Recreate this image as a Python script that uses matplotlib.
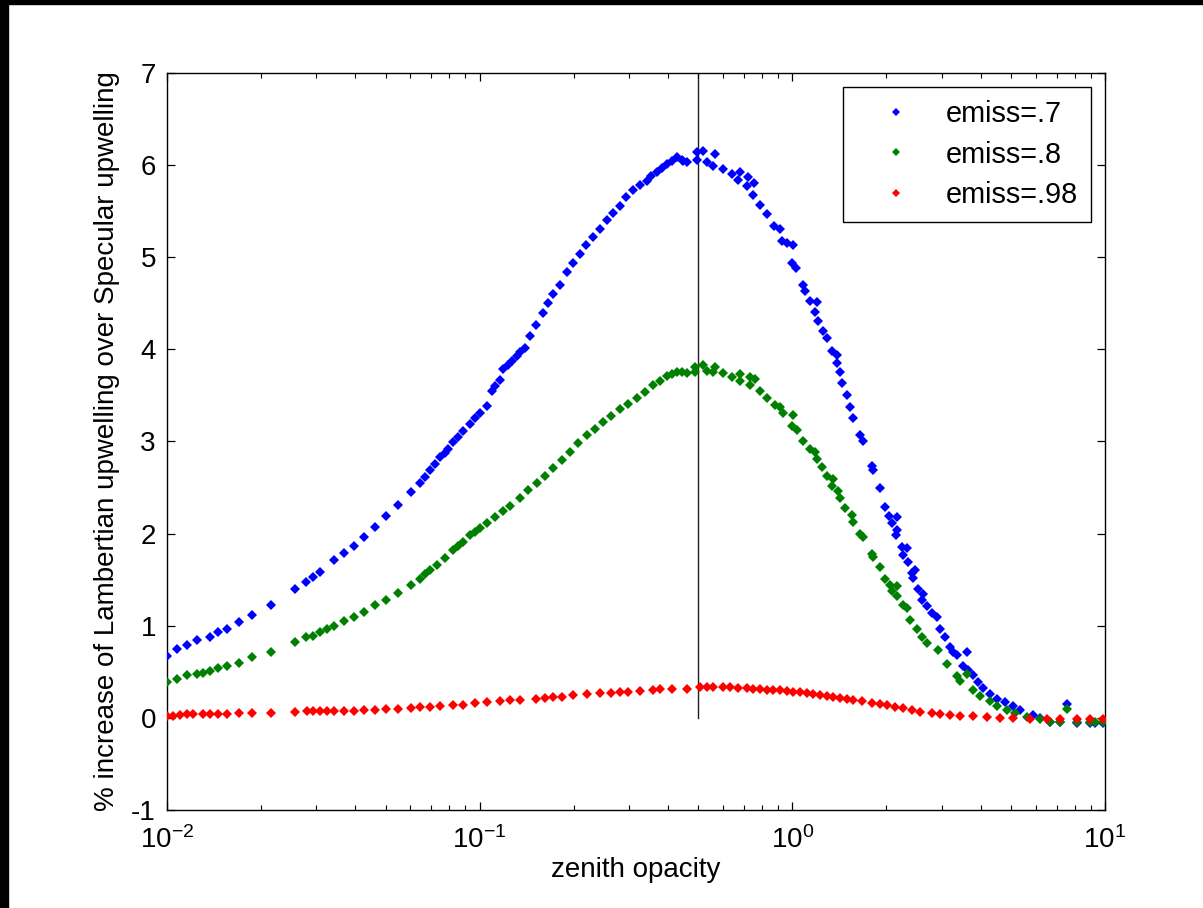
import matplotlib
matplotlib.use("Agg")
import matplotlib.pyplot as plt
from matplotlib.patches import Rectangle

# ---------------------------------------------------------------------
# MATLAB-ish look
# ---------------------------------------------------------------------
plt.rcParams.update({
    "font.family": "Liberation Sans",
    "font.size": 20,
    "mathtext.fontset": "custom",
    "mathtext.rm": "Liberation Sans",
    "mathtext.it": "Liberation Sans:italic",
    "mathtext.bf": "Liberation Sans:bold",
    "axes.unicode_minus": False,
    "axes.linewidth": 1.0,
    "xtick.direction": "in",
    "ytick.direction": "in",
    "xtick.top": True,
    "ytick.right": True,
    "xtick.major.size": 6,
    "ytick.major.size": 6,
    "xtick.minor.size": 3.5,
    "xtick.major.width": 0.9,
    "ytick.major.width": 0.9,
    "xtick.minor.width": 0.8,
})

# ---------------------------------------------------------------------
# Data (zenith opacity, % increase)
# ---------------------------------------------------------------------
tau_07 = [0.0100, 0.01074, 0.01156, 0.01245, 0.01372, 0.01459, 0.01552, 0.01699,
          0.01874, 0.02151, 0.02566, 0.02777, 0.02937, 0.03085, 0.03420, 0.03681,
          0.03963, 0.04266, 0.04627, 0.05017, 0.05467, 0.06031, 0.06443, 0.07464,
          0.08234, 0.09311, 0.1053, 0.1093, 0.1161, 0.1190, 0.1266, 0.1313,
          0.1396, 0.1449, 0.1597, 0.1719, 0.1897, 0.2093, 0.2309, 0.2547,
          0.2810, 0.3099, 0.3420, 0.3681, 0.3963, 0.4266, 0.4426, 0.4478,
          0.4592, 0.4943, 0.4943, 0.5189, 0.5320, 0.5655, 0.5585, 0.6012,
          0.6396, 0.6798, 0.6714, 0.7228, 0.7142, 0.7537, 0.7499, 0.7876,
          0.8276, 0.8733, 0.9128, 0.9243, 0.9590, 1.0023, 0.9949, 1.0268,
          1.0787, 1.0973, 1.1385, 1.1960, 1.1812, 1.2101, 1.2555, 1.2874,
          1.3356, 1.3860, 1.3860, 1.4200, 1.4380, 1.4917, 1.5285, 1.5662,
          1.6452, 1.6853, 1.7932, 1.8065, 1.9060, 1.9777, 2.0416, 2.0873,
          2.1652, 2.1652, 2.1448, 2.2363, 2.3201, 2.2627, 2.3475, 2.4071,
          2.4666, 2.4356, 2.5270, 2.6220, 2.5913, 2.6887, 2.7900, 2.8946,
          2.9648, 3.0761, 3.1915, 3.3530, 3.6089, 3.5196, 3.7887, 4.0785,
          4.5008, 5.0860, 5.8950, 6.6666, 7.5423, 8.1123, 8.9452, 9.8469,
          0.06685, 0.06936, 0.07196, 0.07745, 0.07918, 0.08524, 0.08844, 0.09661,
          0.1002, 0.1119, 0.1232, 0.1346, 0.1514, 0.1653, 0.1806, 0.1988,
          0.2188, 0.2424, 0.2669, 0.2937, 0.3256, 0.3530, 0.3828, 0.4121,
          3.2628, 3.6440, 3.9228, 4.2845, 4.7853, 5.3434, 6.1914, 7.1746,
          9.2832]
inc_07 = [0.67, 0.75, 0.79, 0.84, 0.88, 0.93, 0.96, 1.04,
          1.12, 1.23, 1.40, 1.48, 1.53, 1.58, 1.71, 1.79,
          1.87, 1.96, 2.07, 2.19, 2.31, 2.45, 2.55, 2.83,
          2.99, 3.19, 3.39, 3.55, 3.67, 3.79, 3.87, 3.93,
          4.02, 4.14, 4.40, 4.60, 4.84, 5.04, 5.22, 5.40,
          5.56, 5.73, 5.83, 5.93, 6.01, 6.09, 6.06, 6.05,
          6.03, 6.14, 6.06, 6.15, 6.03, 6.12, 5.99, 5.96,
          5.90, 5.93, 5.84, 5.87, 5.77, 5.81, 5.68, 5.57,
          5.47, 5.34, 5.31, 5.18, 5.16, 5.13, 4.94, 4.88,
          4.70, 4.63, 4.53, 4.51, 4.41, 4.31, 4.20, 4.12,
          3.98, 3.94, 3.85, 3.75, 3.64, 3.50, 3.37, 3.26,
          3.07, 3.01, 2.73, 2.69, 2.50, 2.29, 2.19, 2.12,
          2.18, 2.04, 1.99, 1.86, 1.84, 1.77, 1.69, 1.57,
          1.61, 1.52, 1.40, 1.35, 1.28, 1.21, 1.14, 1.10,
          0.96, 0.88, 0.77, 0.68, 0.71, 0.56, 0.46, 0.32,
          0.21, 0.13, 0.03, -0.04, 0.15, -0.06, -0.06, -0.06,
          2.62, 2.69, 2.76, 2.88, 2.92, 3.05, 3.11, 3.25,
          3.31, 3.60, 3.83, 3.97, 4.27, 4.50, 4.70, 4.94,
          5.13, 5.31, 5.48, 5.65, 5.78, 5.88, 5.97, 6.05,
          0.72, 0.52, 0.39, 0.26, 0.17, 0.09, 0.00, -0.05,
          -0.06]

tau_08 = [0.0100, 0.01074, 0.01156, 0.01245, 0.01306, 0.01372, 0.01459, 0.01552,
          0.01699, 0.01874, 0.02151, 0.02566, 0.02777, 0.02937, 0.03085, 0.03241,
          0.03420, 0.03681, 0.03963, 0.04266, 0.04627, 0.05017, 0.05467, 0.06031,
          0.06443, 0.07286, 0.08234, 0.09311, 0.1053, 0.1190, 0.1346, 0.1522,
          0.1719, 0.1944, 0.2199, 0.2485, 0.2810, 0.3178, 0.3590, 0.3963,
          0.4266, 0.4426, 0.4592, 0.4881, 0.4881, 0.5189, 0.5320, 0.5655,
          0.5585, 0.6012, 0.6396, 0.6798, 0.6798, 0.7318, 0.7318, 0.7593,
          0.7876, 0.8276, 0.8799, 0.9128, 0.9352, 1.0067, 0.9949, 1.0321,
          1.0837, 1.1385, 1.1812, 1.1960, 1.2408, 1.2874, 1.3513, 1.3356,
          1.4024, 1.4200, 1.4733, 1.5476, 1.5662, 1.6452, 1.6853, 1.7932,
          1.8065, 1.9060, 1.9777, 2.0520, 2.0873, 2.1652, 2.1557, 2.2528,
          2.3201, 2.3774, 2.4975, 2.5913, 2.6887, 2.9288, 3.1146, 3.3530,
          3.6089, 3.7887, 4.2845, 4.8450, 5.6154, 6.6666, 7.5423, 8.1123,
          8.9452, 9.8469,
          0.06685, 0.06936, 0.07745, 0.08524, 0.08844, 0.09661, 0.1002, 0.1119,
          0.1250, 0.1427, 0.1617, 0.1833, 0.2062, 0.2337, 0.2630, 0.2981,
          0.3378, 0.3772, 0.4121, 3.4356, 3.9811, 4.5112, 5.1508, 6.1914,
          7.1746, 9.2832]
inc_08 = [0.39, 0.42, 0.46, 0.48, 0.49, 0.51, 0.54, 0.56,
          0.60, 0.66, 0.72, 0.82, 0.88, 0.89, 0.93, 0.96,
          1.00, 1.05, 1.10, 1.15, 1.22, 1.28, 1.36, 1.44,
          1.51, 1.66, 1.82, 1.98, 2.11, 2.25, 2.39, 2.55,
          2.71, 2.89, 3.07, 3.21, 3.35, 3.47, 3.61, 3.71,
          3.75, 3.75, 3.74, 3.81, 3.75, 3.83, 3.77, 3.81,
          3.75, 3.74, 3.70, 3.73, 3.66, 3.70, 3.61, 3.68,
          3.55, 3.47, 3.40, 3.37, 3.31, 3.29, 3.17, 3.13,
          3.00, 2.92, 2.89, 2.81, 2.72, 2.63, 2.59, 2.52,
          2.46, 2.39, 2.28, 2.20, 2.13, 2.00, 1.96, 1.78,
          1.75, 1.64, 1.51, 1.44, 1.38, 1.43, 1.32, 1.23,
          1.19, 1.06, 0.96, 0.88, 0.81, 0.74, 0.59, 0.45,
          0.48, 0.30, 0.18, 0.087, 0.014, -0.04, 0.094, -0.04,
          -0.05, -0.05,
          1.56, 1.61, 1.74, 1.87, 1.91, 2.02, 2.06, 2.18,
          2.30, 2.47, 2.63, 2.80, 2.98, 3.14, 3.28, 3.41,
          3.54, 3.66, 3.73, 0.40, 0.24, 0.13, 0.05, -0.01,
          -0.04, -0.05]

tau_098 = [0.0100, 0.01047, 0.01100, 0.01156, 0.01214, 0.01306, 0.01372, 0.01459,
           0.01552, 0.01699, 0.01874, 0.02151, 0.02566, 0.02798, 0.02937, 0.03085,
           0.03241, 0.03420, 0.03681, 0.03963, 0.04266, 0.04627, 0.05017, 0.05467,
           0.06031, 0.06443, 0.08234, 0.1053, 0.1346, 0.1719, 0.2199, 0.2810,
           0.3590, 0.4592, 0.5064, 0.5585, 0.6316, 0.7142, 0.7876, 0.8687,
           0.9590, 1.0576, 1.1663, 1.2874, 1.4200, 1.5662, 1.6658, 1.7932,
           2.0025, 2.2627, 2.5593, 2.9648, 3.4356, 4.1820, 5.0860, 6.5072,
           8.1123, 9.8469,
           0.06936, 0.07464, 0.08844, 0.09661, 0.1161, 0.1250, 0.1514, 0.1617,
           0.1833, 0.1988, 0.2424, 0.2630, 0.2981, 0.3256, 0.3772, 0.4121,
           0.5320, 0.6012, 0.6714, 0.7499, 0.8276, 0.9128, 1.0067, 1.1110,
           1.2255, 1.3513, 1.4917, 1.9060, 2.1290, 2.4071, 2.7900, 3.1915,
           3.7887, 4.6120, 5.7544, 7.1746, 8.9452]
inc_098 = [0.015, 0.02, 0.03, 0.04, 0.04, 0.04, 0.04, 0.04,
           0.04, 0.05, 0.05, 0.05, 0.06, 0.07, 0.07, 0.07,
           0.07, 0.07, 0.076, 0.08, 0.09, 0.09, 0.094, 0.10,
           0.105, 0.115, 0.135, 0.175, 0.195, 0.224, 0.256, 0.276,
           0.304, 0.316, 0.34, 0.335, 0.33, 0.32, 0.31, 0.30,
           0.29, 0.28, 0.256, 0.235, 0.213, 0.19, 0.18, 0.166,
           0.141, 0.105, 0.068, 0.043, 0.025, 0.008, -0.003, -0.014,
           -0.014, -0.014,
           0.12, 0.125, 0.145, 0.16, 0.18, 0.19, 0.21, 0.215,
           0.23, 0.245, 0.265, 0.27, 0.285, 0.295, 0.31, 0.315,
           0.33, 0.335, 0.325, 0.315, 0.305, 0.30, 0.285, 0.27,
           0.245, 0.225, 0.20, 0.155, 0.12, 0.09, 0.055, 0.035,
           0.015, 0.003, -0.008, -0.014, -0.014]

series_labels = ["emiss=.7", "emiss=.8", "emiss=.98"]
series_colors = ["#0000ff", "#008000", "#ff0000"]

# vertical marker line at tau = 0.5
vline_tau = [0.5, 0.5]
vline_inc = [0, 7]

# ---------------------------------------------------------------------
# Figure
# ---------------------------------------------------------------------
fig = plt.figure(figsize=(12.03, 9.08), dpi=100)
ax = fig.add_axes([167 / 1203, 98 / 908, 938 / 1203, 737 / 908])

ax.plot(vline_tau, vline_inc, color="#202020", lw=1.0, zorder=1)

for xs, ys, lab, col in zip([tau_07, tau_08, tau_098],
                            [inc_07, inc_08, inc_098],
                            series_labels, series_colors):
    ax.plot(xs, ys, ls="none", marker="D", ms=4.7, mew=0,
            color=col, label=lab, zorder=3)

ax.set_xscale("log")
ax.set_xlim(0.01, 10)
ax.set_ylim(-1, 7)
ax.set_yticks(range(-1, 8))
ax.tick_params(axis="x", which="major", pad=12)
ax.tick_params(axis="y", which="major", pad=8)

ax.set_xlabel("zenith opacity", labelpad=2)
ax.set_ylabel("% increase of Lambertian upwelling over Specular upwelling",
              labelpad=8)

leg = ax.legend(loc="upper right", fancybox=False, edgecolor="black",
                framealpha=1.0, borderpad=0.45, handlelength=2.8,
                handletextpad=0.3, labelspacing=0.42, numpoints=1,
                borderaxespad=0.5, markerscale=0.8, fontsize=20.8)
leg.get_frame().set_linewidth(1.0)

# black strips at the left and top edge of the original screenshot
fig.patches.append(Rectangle((0, 0), 8 / 1203, 1, transform=fig.transFigure,
                             color="black", zorder=10))
fig.patches.append(Rectangle((0, 1 - 4 / 908), 1, 4 / 908,
                             transform=fig.transFigure, color="black", zorder=10))

fig.savefig("out.png", dpi=100, facecolor="white")
